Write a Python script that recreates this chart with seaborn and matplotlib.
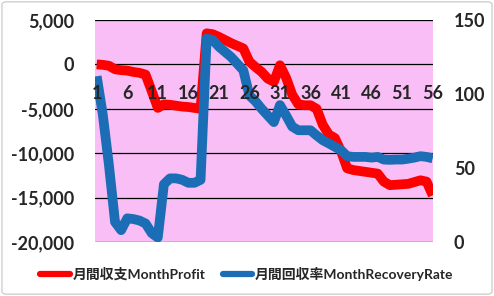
import numpy as np
import pandas as pd
import matplotlib
matplotlib.use("Agg")
import matplotlib.pyplot as plt
from matplotlib.patches import FancyBboxPatch
from matplotlib.lines import Line2D
from matplotlib.ticker import FuncFormatter
import seaborn as sns

# ---- data ----
months = list(range(1, 57))
month_profit = [
    0, -50, -150, -550, -650, -700, -850, -950, -1150, -3000,
    -4900, -4500, -4550, -4650, -4750, -4800, -4900, -5000, 3500, 3400,
    3100, 2750, 2400, 2100, 1800, 300, -300, -850, -1600, -1950,
    -100, -1500, -3400, -4500, -4600, -4600, -5000, -6800, -7900, -8300,
    -9800, -11700, -11900, -12000, -12100, -12200, -12300, -13200, -13600, -13550,
    -13500, -13450, -13250, -13050, -13200, -14750,
]
month_recovery_rate = [
    112, 86, 52, 13.5, 8, 16, 15.5, 14.5, 12.5, 6,
    3, 39, 43, 43, 42, 40, 40, 42, 137.5, 136.5,
    132, 128.5, 125, 120.5, 116, 99, 95, 90, 85.5, 81,
    92.5, 85.5, 78, 75.5, 75.5, 75.5, 72, 68.8, 66.6, 64.3,
    62, 58, 57.5, 57.5, 57.5, 57, 57.5, 55.7, 55.5, 55.7,
    55.7, 56.3, 57, 58, 57.5, 56.5,
]
xtick_labels = [str(m) for m in months[::5]]
label_profit = "月間収支MonthProfit"
label_rate = "月間回収率MonthRecoveryRate"

df = pd.DataFrame({"month": months, "profit": month_profit, "rate": month_recovery_rate})

sns.set_theme(style="white")
plt.rcParams["font.family"] = ["Lato", "Noto Sans CJK JP", "DejaVu Sans"]

W, H = 494, 296
fig = plt.figure(figsize=(W / 100, H / 100), dpi=100)
fig.patch.set_facecolor("white")

# outer chart border
border = FancyBboxPatch((0.004, 0.006), 0.992, 0.988, boxstyle="round,pad=0,rounding_size=0.01",
                        transform=fig.transFigure, facecolor="none", edgecolor="#D0D0D0", lw=1.0)
fig.patches.append(border)

left, right, top, bottom = 95, 433, 20, 242
ax = fig.add_axes([left / W, 1 - bottom / H, (right - left) / W, (bottom - top) / H])
ax.set_facecolor("#F9BEF6")

red = "#FF0000"
blue = "#1B6DB5"
xlim = (0.72, 56.05)

sns.lineplot(data=df, x="month", y="profit", ax=ax, color=red, lw=7, legend=False,
             solid_joinstyle="round", solid_capstyle="butt")
ax.set_ylim(-20000, 5000)
ax.set_yticks(np.arange(-20000, 5001, 5000))
ax.yaxis.set_major_formatter(FuncFormatter(lambda v, p: f"{int(v):,}"))
ax.grid(axis="y", color="black", lw=0.9)
ax.grid(axis="x", visible=False)
ax.set_xlim(*xlim)
ax.tick_params(axis="x", bottom=False, labelbottom=False)
for s in ax.spines.values():
    s.set_visible(False)
ax.tick_params(axis="y", length=0, pad=15, labelsize=13)
for lab in ax.get_yticklabels():
    lab.set_fontweight("bold")
ax.set_xlabel("")
ax.set_ylabel("")

ax2 = ax.twinx()
sns.lineplot(data=df, x="month", y="rate", ax=ax2, color=blue, lw=7, legend=False,
             solid_joinstyle="round", solid_capstyle="butt")
ax2.set_ylim(0, 150)
ax2.set_yticks([0, 50, 100, 150])
for s in ax2.spines.values():
    s.set_visible(False)
ax2.tick_params(axis="y", length=0, pad=15, labelsize=13)
for lab in ax2.get_yticklabels():
    lab.set_fontweight("bold")
ax2.set_ylabel("")
ax2.set_xlabel("")
ax2.grid(False)
ax2.set_xlim(*xlim)
# category labels sit next to the profit zero line (0 on left axis == 120 on right axis)
ax2.set_axisbelow(False)
ax2.xaxis.set_visible(True)
ax2.spines["bottom"].set_position(("data", 120))
ax2.set_xticks(months[::5])
ax2.set_xticklabels(xtick_labels)
ax2.tick_params(axis="x", bottom=True, labelbottom=True, length=0, pad=15, labelsize=13)
for lab in ax2.get_xticklabels():
    lab.set_fontweight("bold")

handles = [Line2D([], [], color=red, lw=4.5), Line2D([], [], color=blue, lw=4.5)]
fig.legend(handles, [label_profit, label_rate], loc="center", bbox_to_anchor=(0.5, 0.074),
           ncol=2, frameon=False, handlelength=2.1, handletextpad=0.2, columnspacing=1.3,
           prop={"size": 10, "weight": "bold"})

fig.savefig("out.png", dpi=100)
